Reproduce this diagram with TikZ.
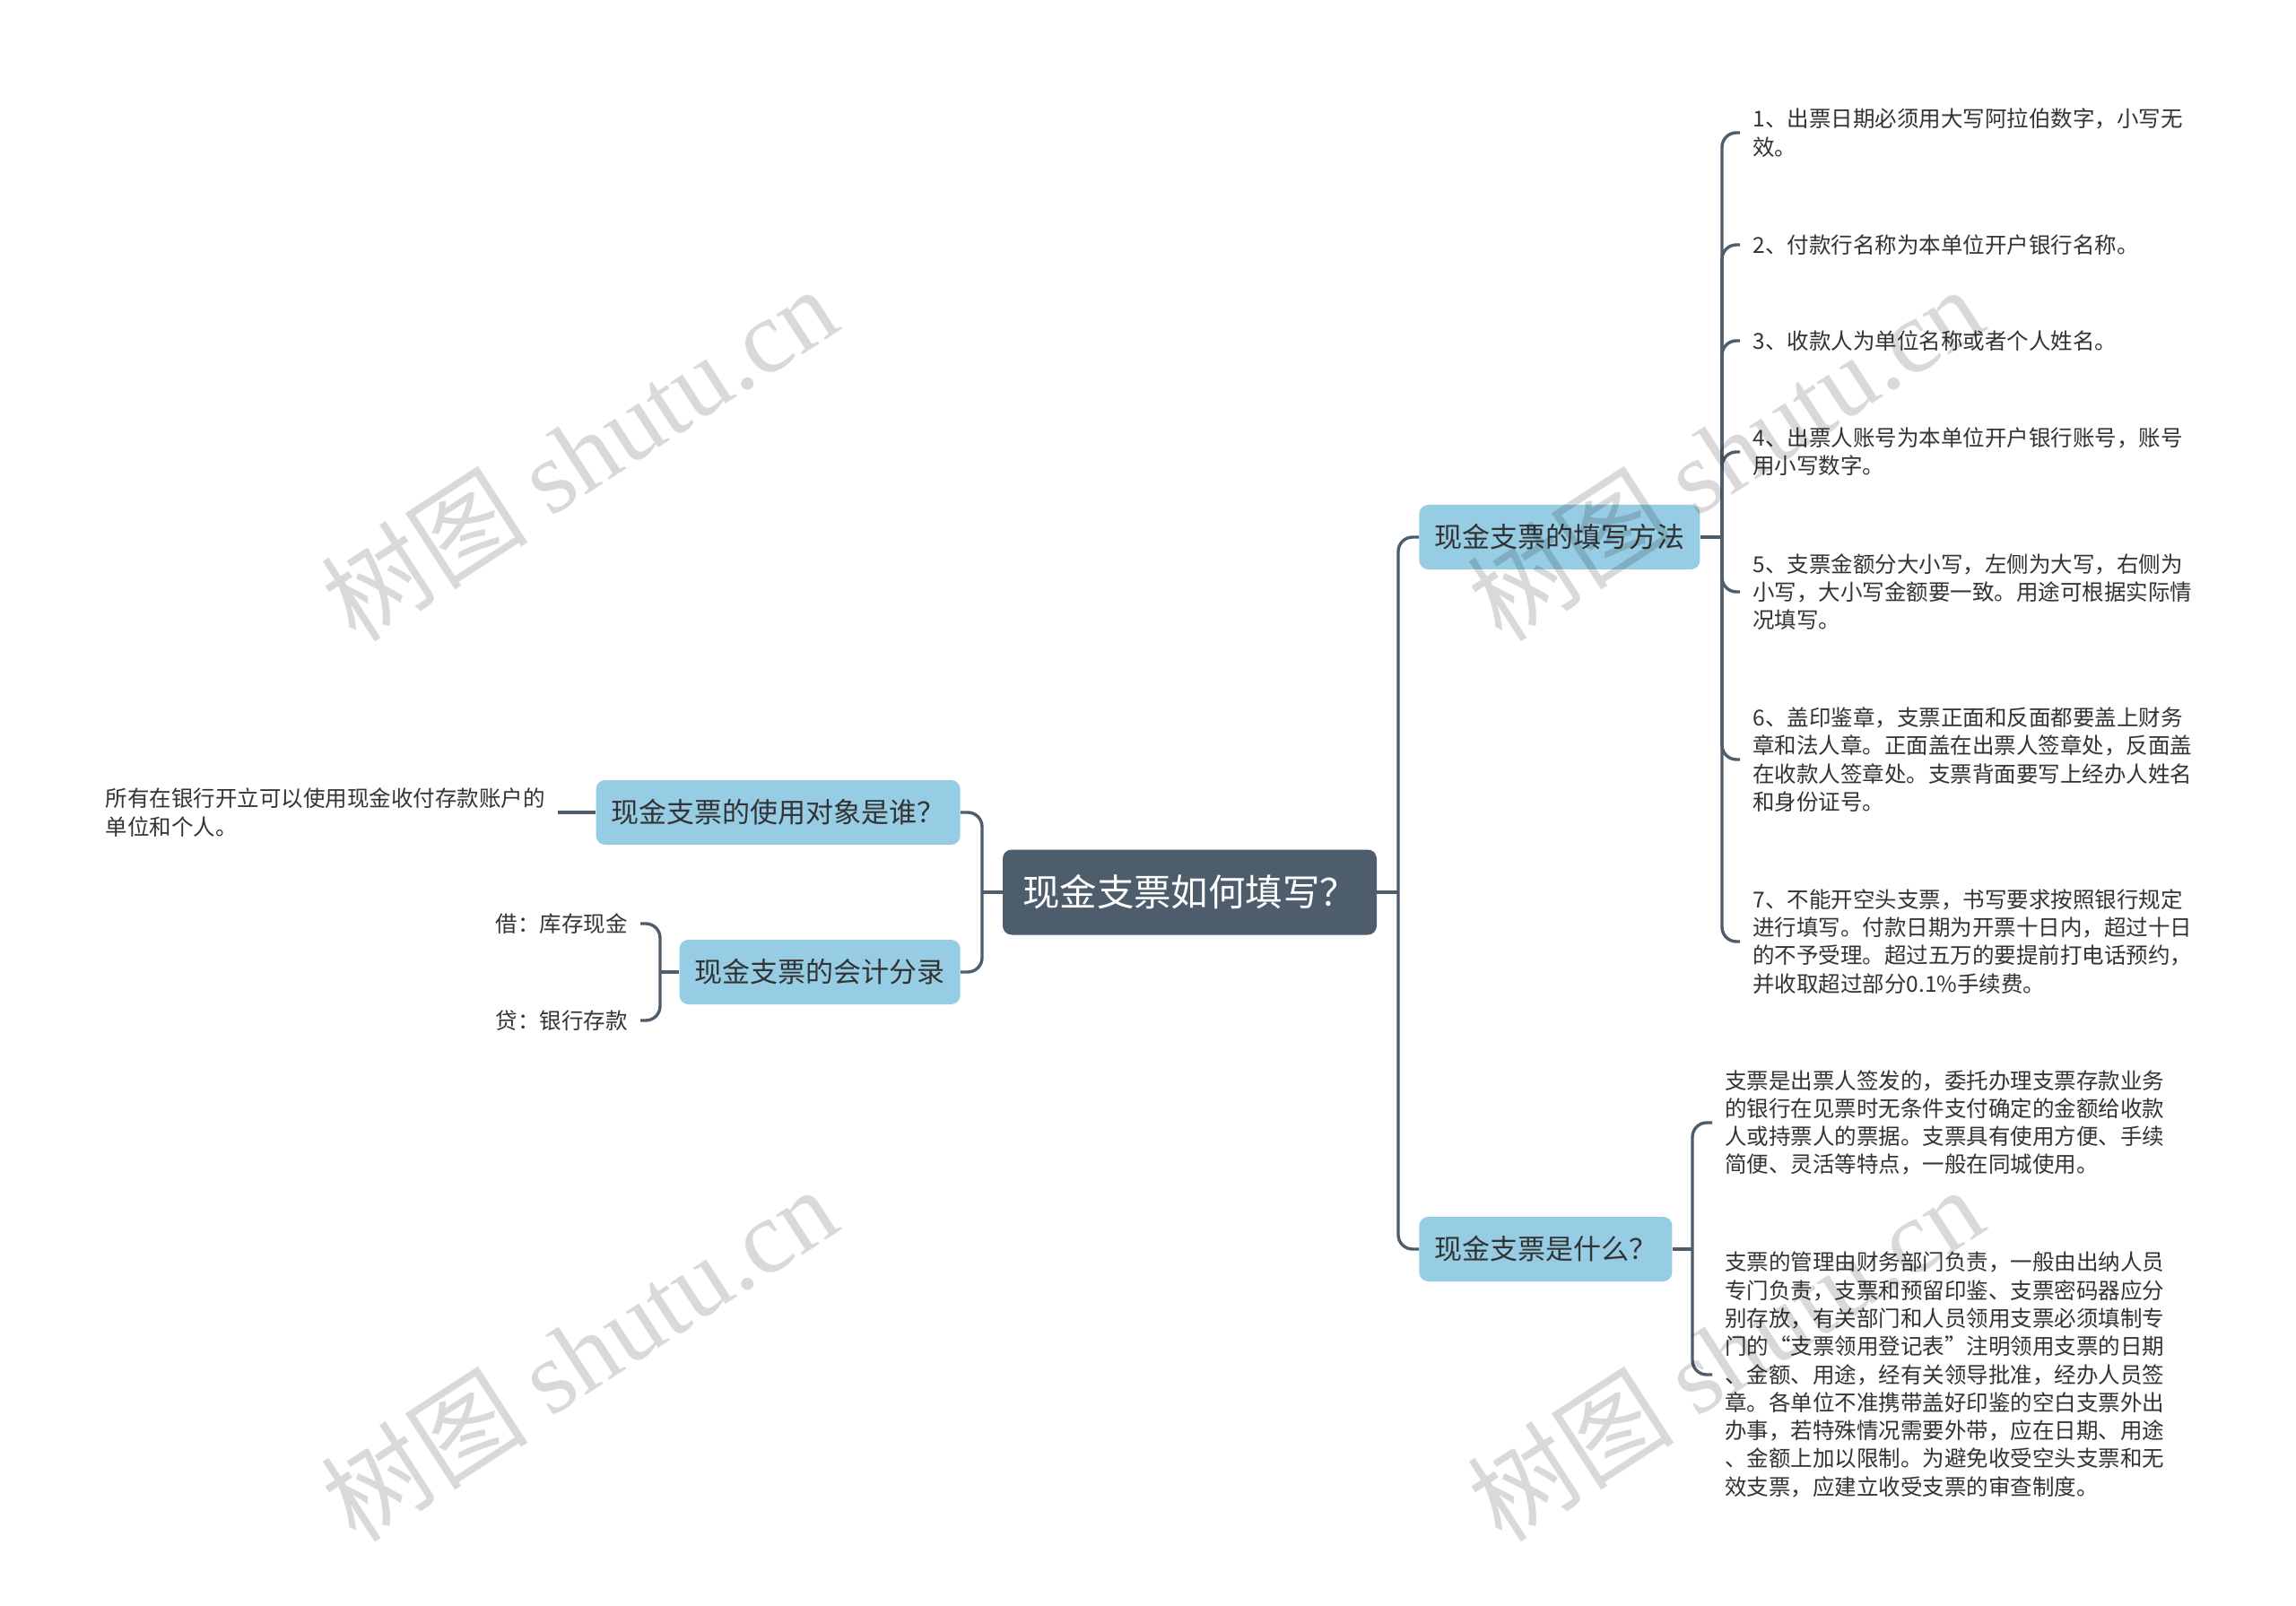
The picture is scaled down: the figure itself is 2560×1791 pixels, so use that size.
\documentclass[tikz,border=0pt]{standalone}
\usepackage{fontspec}
\setmainfont{Noto Sans CJK SC}
\newfontfamily\wmfont{Liberation Serif}
\usetikzlibrary{positioning}
\definecolor{rootc}{RGB}{77,93,108}
\definecolor{subc}{RGB}{150,204,228}
\definecolor{txtc}{RGB}{51,51,51}

\begin{document}
\begin{tikzpicture}[x=0.5pt, y=-0.5pt,
    root/.style={rectangle, rounded corners=5pt, fill=rootc, text=white,
                 minimum width=208.5pt, minimum height=47.5pt, inner sep=0pt,
                 font=\fontsize{20.7pt}{24pt}\selectfont},
    sub/.style={rectangle, rounded corners=5pt, fill=subc, text=txtc,
                minimum height=36pt, inner xsep=8.5pt, inner ysep=0pt,
                font=\fontsize{15.5pt}{18pt}\selectfont},
    leaf/.style={align=left, text=txtc, inner xsep=7pt, inner ysep=0pt,
                 font=\fontsize{12.25pt}{15.65pt}\selectfont},
    link/.style={draw=rootc, line width=1.7pt, rounded corners=8pt},
    wm/.style={rotate=33, text=black, text opacity=0.15,
               font=\fontsize{58pt}{58pt}\selectfont},
  ]
  \fill[white] (0,0) rectangle (2560,1791);
  \useasboundingbox (0,0) rectangle (2560,1791);

  % centre and main branches
  \node[root] (root) at (1326.5,995) {现金支票如何填写？};
  \node[sub, anchor=west] (r1) at (1582,599) {现金支票的填写方法};
  \node[sub, anchor=west] (r2) at (1582,1393) {现金支票是什么？};
  \node[sub, anchor=east] (l1) at (1071,906) {现金支票的使用对象是谁？};
  \node[sub, anchor=east] (l2) at (1071,1084) {现金支票的会计分录};

  % leaves of r1
  \node[leaf, anchor=west] (f1) at (1940,148) {1、出票日期必须用大写阿拉伯数字，小写无\\效。};
  \node[leaf, anchor=west] (f2) at (1940,273) {2、付款行名称为本单位开户银行名称。};
  \node[leaf, anchor=west] (f3) at (1940,380) {3、收款人为单位名称或者个人姓名。};
  \node[leaf, anchor=west] (f4) at (1940,504) {4、出票人账号为本单位开户银行账号，账号\\用小写数字。};
  \node[leaf, anchor=west] (f5) at (1940,660) {5、支票金额分大小写，左侧为大写，右侧为\\小写，大小写金额要一致。用途可根据实际情\\况填写。};
  \node[leaf, anchor=west] (f6) at (1940,847) {6、盖印鉴章，支票正面和反面都要盖上财务\\章和法人章。正面盖在出票人签章处，反面盖\\在收款人签章处。支票背面要写上经办人姓名\\和身份证号。};
  \node[leaf, anchor=west] (f7) at (1940,1050) {7、不能开空头支票，书写要求按照银行规定\\进行填写。付款日期为开票十日内，超过十日\\的不予受理。超过五万的要提前打电话预约，\\并收取超过部分0.1\%手续费。};

  % leaves of r2
  \node[leaf, anchor=west] (d1) at (1909,1252) {支票是出票人签发的，委托办理支票存款业务\\的银行在见票时无条件支付确定的金额给收款\\人或持票人的票据。支票具有使用方便、手续\\简便、灵活等特点，一般在同城使用。};
  \node[leaf, anchor=west] (d2) at (1909,1533) {支票的管理由财务部门负责，一般由出纳人员\\专门负责，支票和预留印鉴、支票密码器应分\\别存放，有关部门和人员领用支票必须填制专\\门的“支票领用登记表”注明领用支票的日期\\、金额、用途，经有关领导批准，经办人员签\\章。各单位不准携带盖好印鉴的空白支票外出\\办事，若特殊情况需要外带，应在日期、用途\\、金额上加以限制。为避免收受空头支票和无\\效支票，应建立收受支票的审查制度。};

  % leaves on the left
  \node[leaf, anchor=east] (u1) at (622,906) {所有在银行开立可以使用现金收付存款账户的\\单位和个人。};
  \node[leaf, anchor=east] (k1) at (714,1030) {借：库存现金};
  \node[leaf, anchor=east] (k2) at (714,1138) {贷：银行存款};

  % junctions
  \coordinate (rj) at (1559,995);
  \coordinate (lj) at (1095,995);
  \coordinate (r1j) at (1920,599);
  \coordinate (r2j) at (1887,1393);
  \coordinate (l2j) at (736,1084);

  \draw[link] (root.east) -- (rj);
  \draw[link] (rj) |- (r1.west);
  \draw[link] (rj) |- (r2.west);
  \draw[link] (root.west) -- (lj);
  \draw[link] (lj) |- (l1.east);
  \draw[link] (lj) |- (l2.east);

  \draw[link] (r1.east) -- (r1j);
  \foreach \f in {f1,f2,f3,f4,f5,f6,f7}
    \draw[link] (r1j) |- (\f.west);
  \draw[link] (r2.east) -- (r2j);
  \foreach \f in {d1,d2}
    \draw[link] (r2j) |- (\f.west);
  \draw[link] (l1.west) -- (u1.east);
  \draw[link] (l2.west) -- (l2j);
  \foreach \f in {k1,k2}
    \draw[link] (l2j) |- (\f.east);

  % watermarks
  \node[wm] (wm1) at (645,505) {树图 {\wmfont shutu.cn}};
  \node[wm] (wm2) at (645,1509) {树图 {\wmfont shutu.cn}};
  \node[wm] (wm3) at (1923,505) {树图 {\wmfont shutu.cn}};
  \node[wm] (wm4) at (1923,1509) {树图 {\wmfont shutu.cn}};
\end{tikzpicture}
\end{document}
